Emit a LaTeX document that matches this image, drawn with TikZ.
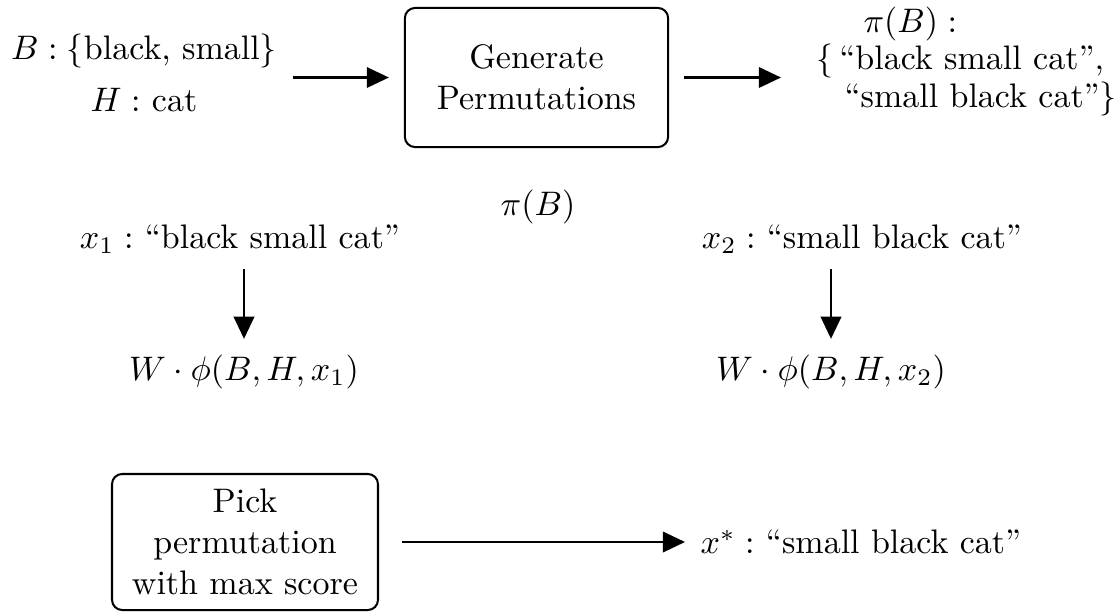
\documentclass[tikz,border=0pt]{standalone}
\usepackage{amsmath}
\usepackage{amssymb}
\usetikzlibrary{arrows.meta}

\begin{document}
\begin{tikzpicture}[x=0.294pt,y=-0.294pt,
  box/.style={draw,line width=0.6pt,rounded corners=3pt,align=center,inner sep=0pt},
  txt/.style={inner sep=0pt},
  arr/.style={line width=0.7pt,-{Triangle[length=6.5pt,width=6pt]},shorten <=4.4pt,shorten >=4.4pt}]
\useasboundingbox (0,0) rectangle (1116,611);

\node[txt,align=center] (input) at (144,73) {$B:\{$black, small$\}$\\[3.3pt]$H:$ cat};
\node[box,minimum width=77.4pt,minimum height=40.9pt] (gen) at (536.5,77.5) {Generate\\Permutations};
\node[txt,align=left,anchor=north west] (perms) at (816,6) {\hspace{13.8pt}$\pi(B):$\\[-1pt]$\{$\,``black small cat'',\\[-1pt]\hspace{8.2pt}``small black cat''$\}$};

\node[txt] (pib) at (538,207) {$\pi(B)$};
\node[txt] (xone) at (240,239) {$x_1:$ ``black small cat''};
\node[txt] (xtwo) at (862,239) {$x_2:$ ``small black cat''};
\node[txt] (wone) at (244,371.5) {$W\cdot\phi(B,H,x_1)$};
\node[txt] (wtwo) at (831,371.5) {$W\cdot\phi(B,H,x_2)$};

\node[box,minimum width=78.2pt,minimum height=40pt] (pick) at (245,542) {Pick\\permutation\\with max score};
\node[txt,anchor=west] (best) at (700,542) {$x^*:$ ``small black cat''};

\draw[arr] (input.east |- gen.west) -- (gen.west);
\draw[arr,shorten >=10.3pt] (gen.east) -- (gen.east -| perms.west);
\draw[arr] (wone.north |- xone.south) -- (wone.north);
\draw[arr] (wtwo.north |- xtwo.south) -- (wtwo.north);
\draw[arr,shorten <=6.8pt] (pick) -- (best);
\end{tikzpicture}
\end{document}
